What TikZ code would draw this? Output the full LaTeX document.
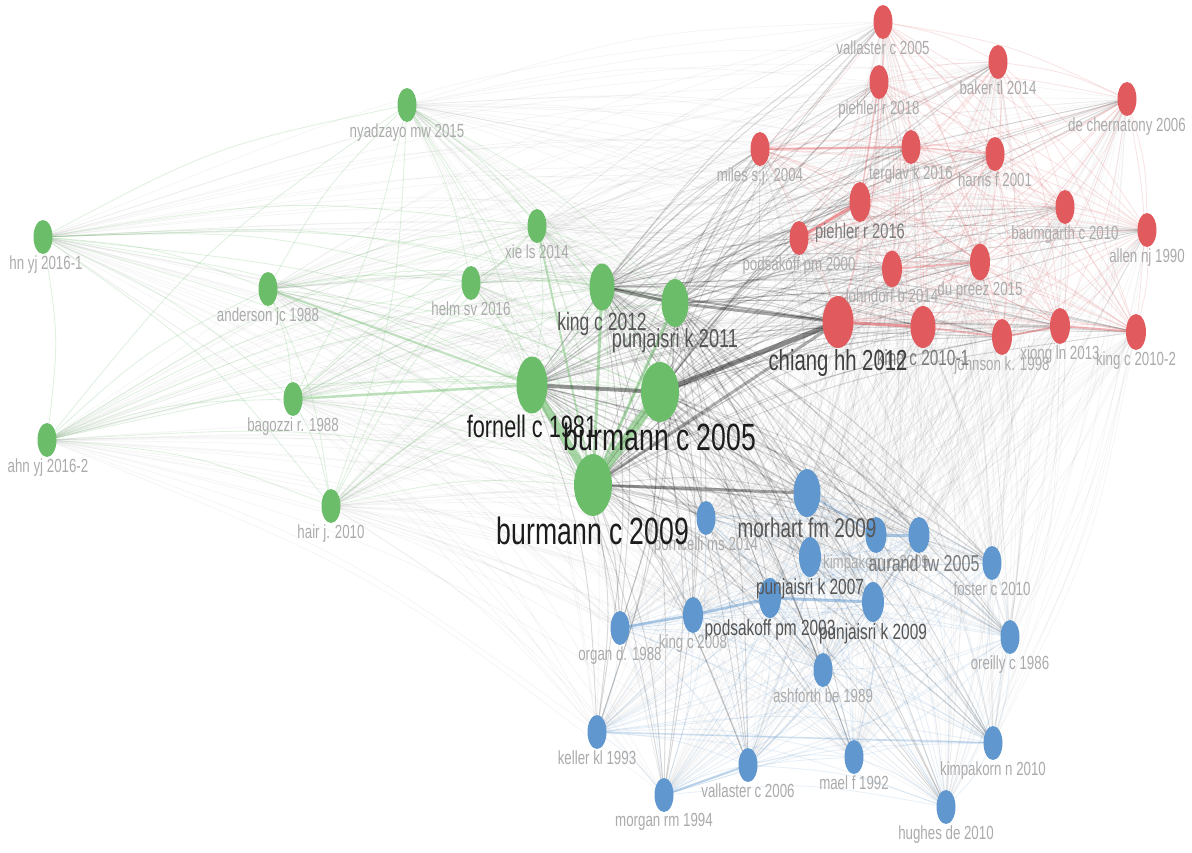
\documentclass[tikz,border=0pt]{standalone}
\usepackage{fontspec}
\usepackage{xcolor}
\usepackage{tikz}
\usetikzlibrary{
positioning,
shapes.geometric,
backgrounds,
calc
}
\newfontfamily\vosfont[FakeStretch=0.7]{Liberation Sans}
\definecolor{vgreen}{HTML}{6CBD6A}
\definecolor{vred}{HTML}{E05A5E}
\definecolor{vblue}{HTML}{5F97CE}
\definecolor{lighttext}{HTML}{ABABAB}
\definecolor{greytext}{HTML}{7C7C7C}
\definecolor{midtext}{HTML}{555555}
\definecolor{darktext}{HTML}{1C1C1C}

\newcommand\greenset{ahn1,ahn2,anderson,nyadzayo,bagozzi,hair,xie,helm,king12,punjaisri11,fornell,burmann05,burmann09}
\newcommand\redset{vallaster05,piehler18,baker,chernatony,miles,terglav,harris,piehler16,podsakoff00,lohndorf,dupreez,baumgarth,allen,chiang,king10a,johnson,xiong,king10b}
\newcommand\blueset{morhart,porricelli,kimpakorn09,aurand,punjaisri07,podsakoff03,punjaisri09,king08,organ,foster,oreilly,ashforth,keller,morgan,vallaster06,mael,kimpakorn10,hughes}
\newcommand\hubset{fornell,burmann05,burmann09,king12,punjaisri11}
\newcommand\vlink[3]{\draw[#1] let \p1=(#2.center), \p2=(#3.center) in
  (\p1) .. controls ({0.5*\x1+0.5*\x2-0.07*(\y2-\y1)},{0.5*\y1+0.5*\y2+0.07*(\x2-\x1)}) .. (\p2);}

\begin{document}
\begin{tikzpicture}[
x=1pt, y=-1pt,
item/.style={
ellipse,
inner sep=0pt,
minimum width=19pt,
minimum height=34pt
},
gitem/.style={item, fill=vgreen},
ritem/.style={item, fill=vred},
bitem/.style={item, fill=vblue},
nsize/.style 2 args={minimum width=#1pt, minimum height=#2pt},
lbl/.style={font=\vosfont\fontsize{#1}{#1}\selectfont, inner sep=1pt},
tlight/.style={lbl=19, text=lighttext},
glink/.style={draw=vgreen, draw opacity=.22, line width=.8pt},
rlink/.style={draw=vred, draw opacity=.17, line width=.8pt},
blink/.style={draw=vblue, draw opacity=.15, line width=.8pt},
xlink/.style={draw=black, draw opacity=.04, line width=.8pt},
hlink/.style={draw=black, draw opacity=.11, line width=1pt}
]

\useasboundingbox (0,0) rectangle (1192,852);

\node[gitem] (ahn1) at (43,237) {};
\node[gitem] (ahn2) at (47,440) {};
\node[gitem] (anderson) at (268,289) {};
\node[gitem] (nyadzayo) at (407,105) {};
\node[gitem] (bagozzi) at (293,399) {};
\node[gitem] (hair) at (331,506) {};
\node[gitem] (xie) at (537,226) {};
\node[gitem] (helm) at (471,283) {};
\node[gitem, nsize={25}{47}] (king12) at (602,287) {};
\node[gitem, nsize={27}{48}] (punjaisri11) at (675,303) {};
\node[gitem, nsize={31}{57}] (fornell) at (532,385) {};
\node[gitem, nsize={38}{60}] (burmann05) at (660,392) {};
\node[gitem, nsize={38}{62}] (burmann09) at (593,485) {};

\node[ritem] (vallaster05) at (883,22) {};
\node[ritem] (piehler18) at (879,82) {};
\node[ritem] (baker) at (998,62) {};
\node[ritem] (chernatony) at (1127,99) {};
\node[ritem] (miles) at (760,149) {};
\node[ritem] (terglav) at (911,147) {};
\node[ritem] (harris) at (995,154) {};
\node[ritem, nsize={21}{40}] (piehler16) at (860,202) {};
\node[ritem] (podsakoff00) at (799,238) {};
\node[ritem, nsize={20}{37}] (lohndorf) at (892,269) {};
\node[ritem, nsize={20}{37}] (dupreez) at (980,262) {};
\node[ritem] (baumgarth) at (1065,207) {};
\node[ritem] (allen) at (1147,230) {};
\node[ritem, nsize={31}{52}] (chiang) at (838,322) {};
\node[ritem, nsize={25}{42}] (king10a) at (923,327) {};
\node[ritem, nsize={20}{36}] (johnson) at (1002,337) {};
\node[ritem, nsize={20}{36}] (xiong) at (1060,326) {};
\node[ritem, nsize={20}{36}] (king10b) at (1136,332) {};

\node[bitem, nsize={27}{48}] (morhart) at (807,493) {};
\node[bitem] (porricelli) at (706,518) {};
\node[bitem, nsize={21}{36}] (kimpakorn09) at (876,535) {};
\node[bitem, nsize={21}{36}] (aurand) at (919,535) {};
\node[bitem, nsize={22}{40}] (punjaisri07) at (810,557) {};
\node[bitem, nsize={22}{40}] (podsakoff03) at (770,598) {};
\node[bitem, nsize={22}{40}] (punjaisri09) at (873,602) {};
\node[bitem, nsize={20}{36}] (king08) at (693,615) {};
\node[bitem] (organ) at (620,628) {};
\node[bitem] (foster) at (992,563) {};
\node[bitem] (oreilly) at (1010,637) {};
\node[bitem] (ashforth) at (823,670) {};
\node[bitem] (keller) at (597,732) {};
\node[bitem] (morgan) at (664,795) {};
\node[bitem] (vallaster06) at (748,765) {};
\node[bitem] (mael) at (854,757) {};
\node[bitem] (kimpakorn10) at (993,743) {};
\node[bitem] (hughes) at (946,807) {};

\begin{scope}[on background layer]
\fill[white] (0,0) rectangle (1192,852);
\foreach \a in \greenset {
  \foreach \b in \redset {\vlink{xlink}{\a}{\b}}
  \foreach \b in \blueset {\vlink{xlink}{\a}{\b}}
}
\foreach \a in \redset {
  \foreach \b in \blueset {\vlink{xlink}{\a}{\b}}
}
\foreach \a [count=\i] in \greenset {
  \foreach \b [count=\j] in \greenset {
    \ifnum\j>\i \vlink{glink}{\a}{\b}\fi
  }
}
\foreach \a [count=\i] in \redset {
  \foreach \b [count=\j] in \redset {
    \ifnum\j>\i \vlink{rlink}{\a}{\b}\fi
  }
}
\foreach \a [count=\i] in \blueset {
  \foreach \b [count=\j] in \blueset {
    \ifnum\j>\i \vlink{blink}{\a}{\b}\fi
  }
}
\foreach \a in \hubset {
  \foreach \b in \redset {\vlink{hlink}{\a}{\b}}
  \foreach \b in \blueset {\vlink{hlink}{\a}{\b}}
}

\draw[glink, draw opacity=.6, line width=8pt] (fornell.center) -- (burmann09.center);
\draw[glink, draw opacity=.6, line width=9pt] (burmann09.center) -- (burmann05.center);
\draw[glink, draw opacity=.5, line width=3pt] (king12.center) -- (burmann09.center);
\draw[glink, draw opacity=.5, line width=3pt] (punjaisri11.center) -- (burmann09.center);
\draw[glink, draw opacity=.45, line width=2.5pt] (bagozzi.center) -- (fornell.center);
\draw[glink, draw opacity=.4, line width=2pt] (anderson.center) -- (fornell.center);
\draw[glink, draw opacity=.45, line width=2pt] (xie.center) -- (burmann09.center);
\draw[hlink, draw opacity=.4, line width=4pt] (fornell.center) -- (burmann05.center);
\draw[hlink, draw opacity=.4, line width=3pt] (king12.center) -- (punjaisri11.center);
\draw[hlink, draw opacity=.45, line width=5pt] (burmann05.center) -- (chiang.center);
\draw[hlink, draw opacity=.35, line width=3pt] (punjaisri11.center) -- (chiang.center);
\draw[hlink, draw opacity=.3, line width=2pt] (king12.center) -- (chiang.center);
\draw[hlink, draw opacity=.35, line width=3pt] (burmann09.center) -- (morhart.center);
\draw[hlink, draw opacity=.3, line width=3pt] (burmann09.center) -- (chiang.center);

\draw[rlink, draw opacity=.45, line width=2pt] (miles.center) -- (terglav.center);
\draw[rlink, draw opacity=.35, line width=1.5pt] (terglav.center) -- (harris.center);
\draw[rlink, draw opacity=.6, line width=3pt] (podsakoff00.center) -- (piehler16.center);
\draw[rlink, draw opacity=.35, line width=1.5pt] (piehler18.center) -- (piehler16.center);
\draw[rlink, draw opacity=.4, line width=2pt] (lohndorf.center) -- (dupreez.center);
\draw[rlink, draw opacity=.6, line width=3pt] (chiang.center) -- (king10a.center);
\draw[rlink, draw opacity=.4, line width=2pt] (king10a.center) -- (johnson.center);
\draw[rlink, draw opacity=.4, line width=2pt] (johnson.center) -- (xiong.center);
\draw[rlink, draw opacity=.4, line width=2pt] (xiong.center) -- (king10b.center);

\draw[blink, draw opacity=.5, line width=2.5pt] (organ.center) -- (king08.center);
\draw[blink, draw opacity=.5, line width=2.5pt] (king08.center) -- (podsakoff03.center);
\draw[blink, draw opacity=.5, line width=3pt] (podsakoff03.center) -- (punjaisri09.center);
\draw[blink, draw opacity=.5, line width=3pt] (kimpakorn09.center) -- (aurand.center);
\draw[blink, draw opacity=.4, line width=2pt] (morhart.center) -- (kimpakorn09.center);
\draw[blink, draw opacity=.4, line width=2pt] (morgan.center) -- (vallaster06.center);
\draw[blink, draw opacity=.3, line width=1.5pt] (keller.center) -- (kimpakorn10.center);
\end{scope}

\node[tlight, below=0pt of ahn1, xshift=3pt] (ahn1-t) {hn yj 2016-1};
\node[tlight, below=0pt of ahn2, xshift=1pt] (ahn2-t) {ahn yj 2016-2};
\node[tlight, below=0pt of anderson] (anderson-t) {anderson jc 1988};
\node[tlight, below=0pt of nyadzayo] (nyadzayo-t) {nyadzayo mw 2015};
\node[tlight, below=0pt of bagozzi] (bagozzi-t) {bagozzi r. 1988};
\node[tlight, below=0pt of hair] (hair-t) {hair j. 2010};
\node[tlight, below=0pt of xie] (xie-t) {xie ls 2014};
\node[tlight, below=0pt of helm] (helm-t) {helm sv 2016};

\node[tlight, below=0pt of vallaster05] (vallaster05-t) {vallaster c 2005};
\node[tlight, below=0pt of piehler18] (piehler18-t) {piehler r 2018};
\node[tlight, below=0pt of baker] (baker-t) {baker tl 2014};
\node[tlight, below=0pt of chernatony] (chernatony-t) {de chernatony 2006};
\node[tlight, below=0pt of miles] (miles-t) {miles s.j. 2004};
\node[tlight, below=0pt of terglav] (terglav-t) {terglav k 2016};
\node[tlight, below=0pt of harris] (harris-t) {harris f 2001};
\node[tlight, below=0pt of podsakoff00] (podsakoff00-t) {podsakoff pm 2000};
\node[tlight, below=0pt of lohndorf] (lohndorf-t) {lohndorf b 2014};
\node[tlight, below=0pt of dupreez] (dupreez-t) {du preez 2015};
\node[tlight, below=0pt of baumgarth] (baumgarth-t) {baumgarth c 2010};
\node[tlight, below=0pt of allen] (allen-t) {allen nj 1990};
\node[tlight, below=0pt of johnson] (johnson-t) {johnson k. 1998};
\node[tlight, below=0pt of xiong] (xiong-t) {xiong ln 2013};
\node[tlight, below=0pt of king10b] (king10b-t) {king c 2010-2};

\node[tlight, below=0pt of porricelli] (porricelli-t) {porricelli ms 2014};
\node[tlight, below=0pt of kimpakorn09] (kimpakorn09-t) {kimpakorn n 2009};
\node[tlight, below=0pt of king08] (king08-t) {king c 2008};
\node[tlight, below=0pt of organ] (organ-t) {organ d. 1988};
\node[tlight, below=0pt of foster] (foster-t) {foster c 2010};
\node[tlight, below=0pt of oreilly] (oreilly-t) {oreilly c 1986};
\node[tlight, below=0pt of ashforth] (ashforth-t) {ashforth be 1989};
\node[tlight, below=0pt of keller] (keller-t) {keller kl 1993};
\node[tlight, below=0pt of morgan] (morgan-t) {morgan rm 1994};
\node[tlight, below=0pt of vallaster06] (vallaster06-t) {vallaster c 2006};
\node[tlight, below=0pt of mael] (mael-t) {mael f 1992};
\node[tlight, below=0pt of kimpakorn10] (kimpakorn10-t) {kimpakorn n 2010};
\node[tlight, below=0pt of hughes] (hughes-t) {hughes de 2010};

\node[lbl=21, text=greytext, below=0pt of piehler16] (piehler16-t) {piehler r 2016};
\node[lbl=22, text=greytext, below=0pt of king10a] (king10a-t) {king c 2010-1};
\node[lbl=23, text=greytext, below=0pt of aurand, xshift=5pt] (aurand-t) {aurand tw 2005};
\node[lbl=22, text=midtext, below=0pt of punjaisri07] (punjaisri07-t) {punjaisri k 2007};
\node[lbl=22, text=midtext, below=0pt of podsakoff03] (podsakoff03-t) {podsakoff pm 2003};
\node[lbl=22, text=midtext, below=0pt of punjaisri09] (punjaisri09-t) {punjaisri k 2009};
\node[lbl=27, text=midtext, below=0pt of morhart] (morhart-t) {morhart fm 2009};
\node[lbl=25, text=midtext, below=0pt of king12] (king12-t) {king c 2012};
\node[lbl=26, text=midtext, below=0pt of punjaisri11] (punjaisri11-t) {punjaisri k 2011};

\node[lbl=29, text=darktext!85!white, below=0pt of chiang] (chiang-t) {chiang hh 2012};
\node[lbl=31, text=darktext, below=0pt of fornell] (fornell-t) {fornell c 1981};
\node[lbl=38, text=darktext, below=0pt of burmann05] (burmann05-t) {burmann c 2005};
\node[lbl=38, text=darktext, below=0pt of burmann09] (burmann09-t) {burmann c 2009};

\end{tikzpicture}
\end{document}
